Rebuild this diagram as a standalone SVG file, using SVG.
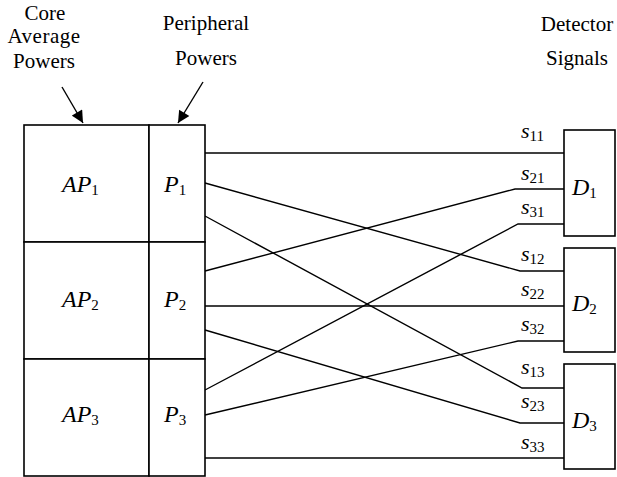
<svg xmlns="http://www.w3.org/2000/svg" width="617" height="477" viewBox="0 0 617 477">
<style>
.t{font-family:"Liberation Serif","Times New Roman",serif;font-size:21px;fill:#000;text-anchor:middle}
.m{font-family:"Liberation Serif","Times New Roman",serif;font-size:24px;font-style:italic;fill:#000}
.s{font-family:"Liberation Serif","Times New Roman",serif;font-size:22px;font-style:italic;fill:#000}
.sub{font-size:15px;font-style:normal}
.box{fill:#fff;stroke:#000;stroke-width:1.6}
.ln{fill:none;stroke:#000;stroke-width:1.4}
</style>
<defs>
<marker id="ah" viewBox="0 0 10 10" refX="10" refY="5" markerWidth="14" markerHeight="12" markerUnits="userSpaceOnUse" orient="auto">
<path d="M0,0 L10,5 L0,10 Z" fill="#000"/>
</marker>
</defs>
<rect width="617" height="477" fill="#fff"/>
<g id="titles">
<text class="t" x="45" y="20">Core</text>
<text class="t" x="44" y="43" letter-spacing="0.5">Average</text>
<text class="t" x="44" y="68">Powers</text>
<text class="t" x="206" y="30">Peripheral</text>
<text class="t" x="206" y="65">Powers</text>
<text class="t" x="577" y="31">Detector</text>
<text class="t" x="577" y="65">Signals</text>
</g>
<g id="pointers">
<line class="ln" x1="62" y1="87" x2="83" y2="123" marker-end="url(#ah)"/>
<line class="ln" x1="203" y1="82" x2="178" y2="123" marker-end="url(#ah)"/>
</g>
<g id="connectors">
<polyline class="ln" points="205,153 564,153"/>
<polyline class="ln" points="205,183 520,271 564,271"/>
<polyline class="ln" points="205,216 522,388 564,388"/>
<polyline class="ln" points="205,271 515,189 564,189"/>
<polyline class="ln" points="205,306 564,306"/>
<polyline class="ln" points="205,330 520,423 564,423"/>
<polyline class="ln" points="205,390 518,224 564,224"/>
<polyline class="ln" points="205,415 518,341 564,341"/>
<polyline class="ln" points="205,458 564,458"/>
</g>
<g id="AP1"><rect class="box" x="24" y="125" width="125" height="117"/><text class="m" x="62" y="192">AP<tspan class="sub" font-size="17" dy="3">1</tspan></text></g>
<g id="AP2"><rect class="box" x="24" y="242" width="125" height="117"/><text class="m" x="62" y="307">AP<tspan class="sub" font-size="17" dy="3">2</tspan></text></g>
<g id="AP3"><rect class="box" x="24" y="359" width="125" height="117"/><text class="m" x="62" y="422">AP<tspan class="sub" font-size="17" dy="3">3</tspan></text></g>
<g id="P1"><rect class="box" x="149" y="125" width="56" height="117"/><text class="m" x="164" y="192">P<tspan class="sub" font-size="17" dy="3">1</tspan></text></g>
<g id="P2"><rect class="box" x="149" y="242" width="56" height="117"/><text class="m" x="164" y="307">P<tspan class="sub" font-size="17" dy="3">2</tspan></text></g>
<g id="P3"><rect class="box" x="149" y="359" width="56" height="117"/><text class="m" x="164" y="422">P<tspan class="sub" font-size="17" dy="3">3</tspan></text></g>
<g id="D1"><rect class="box" x="564" y="130" width="51" height="106"/><text class="m" x="572" y="195">D<tspan class="sub" font-size="17" dy="3">1</tspan></text></g>
<g id="D2"><rect class="box" x="564" y="248" width="51" height="104"/><text class="m" x="572" y="311">D<tspan class="sub" font-size="17" dy="3">2</tspan></text></g>
<g id="D3"><rect class="box" x="564" y="364" width="51" height="105"/><text class="m" x="572" y="428">D<tspan class="sub" font-size="17" dy="3">3</tspan></text></g>
<g id="signal-labels">
<text class="s" x="521" y="138">s<tspan class="sub" dy="3">11</tspan></text>
<text class="s" x="521" y="180">s<tspan class="sub" dy="3">21</tspan></text>
<text class="s" x="521" y="214">s<tspan class="sub" dy="3">31</tspan></text>
<text class="s" x="521" y="261">s<tspan class="sub" dy="3">12</tspan></text>
<text class="s" x="521" y="296">s<tspan class="sub" dy="3">22</tspan></text>
<text class="s" x="521" y="331">s<tspan class="sub" dy="3">32</tspan></text>
<text class="s" x="521" y="374">s<tspan class="sub" dy="3">13</tspan></text>
<text class="s" x="521" y="408">s<tspan class="sub" dy="3">23</tspan></text>
<text class="s" x="521" y="449">s<tspan class="sub" dy="3">33</tspan></text>
</g>
</svg>
